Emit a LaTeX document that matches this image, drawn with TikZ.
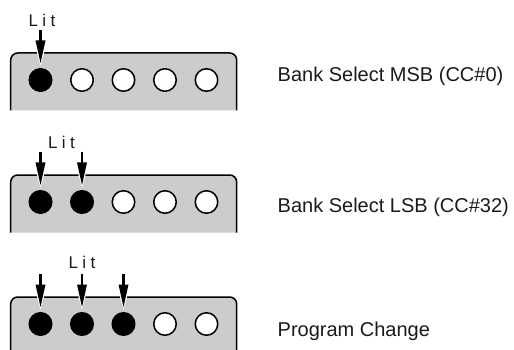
\documentclass[tikz,border=0pt]{standalone}
\usepackage{fontspec}
\setmainfont{Liberation Sans}
\usetikzlibrary{calc}
\definecolor{panelgray}{HTML}{CCCCCC}
\definecolor{txt}{HTML}{1A1A1A}
\tikzset{
  panel/.style={fill=panelgray, draw=black, line width=1.5pt, rounded corners=7pt},
  ledon/.style={circle, fill=black, draw=black, line width=1.5pt, minimum size=22.5pt, inner sep=0pt},
  ledoff/.style={circle, fill=white, draw=black, line width=1.5pt, minimum size=22.5pt, inner sep=0pt},
  littext/.style={font=\fontsize{17}{20}\selectfont, text=txt, inner sep=0pt, anchor=base},
  labeltext/.style={font=\fontsize{20}{24}\selectfont, text=txt, inner sep=0pt, anchor=base west},
  shaft/.style={line width=2.2pt},
}
\newcommand\litarrow[1]{%
  \fill[white] ($(#1)+(-6.8,-39)$) -- ($(#1)+(6.8,-39)$) -- ($(#1)+(0,-14.5)$) -- cycle;
  \fill[black] ($(#1)+(-5,-39.5)$) -- ($(#1)+(5,-39.5)$) -- ($(#1)+(0,-17)$) -- cycle;
  \draw[shaft] ($(#1)+(0,-50)$) -- ($(#1)+(0,-38.5)$);
}
\begin{document}
\begin{tikzpicture}[x=1pt,y=-1pt]
  \useasboundingbox (0,0) rectangle (514,350);
  % panels
  \path[panel] (10.7,110.5) -- (10.7,53) -- (236.7,53) -- (236.7,110.5);
  \path[panel] (10.7,232.5) -- (10.7,175) -- (236.7,175) -- (236.7,232.5);
  \path[panel] (10.7,351) -- (10.7,297) -- (236.7,297) -- (236.7,351);
  % LEDs row 1
  \node[ledon]  (a1) at (40.5,80) {};
  \node[ledoff] (a2) at (82,80) {};
  \node[ledoff] (a3) at (123.5,80) {};
  \node[ledoff] (a4) at (165,80) {};
  \node[ledoff] (a5) at (206.5,80) {};
  % LEDs row 2
  \node[ledon]  (b1) at (40.5,202) {};
  \node[ledon]  (b2) at (82,202) {};
  \node[ledoff] (b3) at (123.5,202) {};
  \node[ledoff] (b4) at (165,202) {};
  \node[ledoff] (b5) at (206.5,202) {};
  % LEDs row 3
  \node[ledon]  (c1) at (40.5,324) {};
  \node[ledon]  (c2) at (82,324) {};
  \node[ledon]  (c3) at (123.5,324) {};
  \node[ledoff] (c4) at (165,324) {};
  \node[ledoff] (c5) at (206.5,324) {};
  % arrows
  \litarrow{a1}
  \litarrow{b1}\litarrow{b2}
  \litarrow{c1}\litarrow{c2}\litarrow{c3}
  % Lit labels
  \node[littext] (la) at (42,26.3) {L\kern4.5pt i\kern4.5pt t};
  \node[littext] (lb) at (61.5,148.3) {L\kern4.5pt i\kern4.5pt t};
  \node[littext] (lc) at (82,268.5) {L\kern4.5pt i\kern4.5pt t};
  % descriptions
  \node[labeltext] (ta) at (277.5,81.7) {Bank Select MSB (CC\#0)};
  \node[labeltext] (tb) at (277.5,212.7) {Bank Select LSB (CC\#32)};
  \node[labeltext] (tc) at (277.5,336.7) {Program Change};
\end{tikzpicture}
\end{document}
